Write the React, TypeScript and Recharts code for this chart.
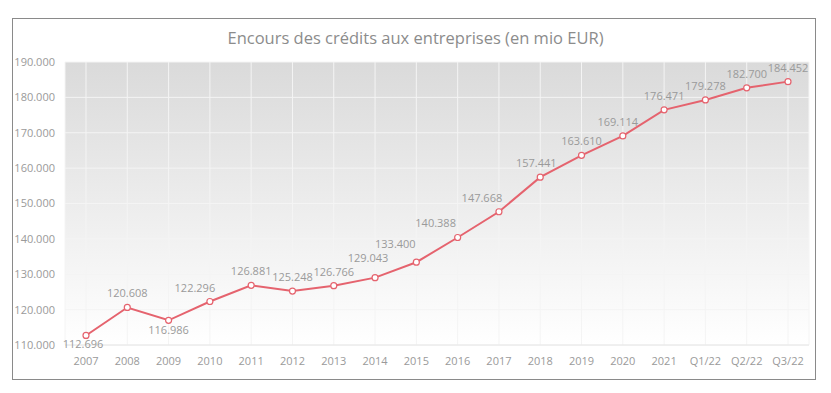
import React from 'react';
import { LineChart, Line, XAxis, YAxis, CartesianGrid, LabelList } from 'recharts';

const periods = [
  '2007', '2008', '2009', '2010', '2011', '2012', '2013', '2014', '2015',
  '2016', '2017', '2018', '2019', '2020', '2021', 'Q1/22', 'Q2/22', 'Q3/22',
];

const credits = [
  112696, 120608, 116986, 122296, 126881, 125248, 126766, 129043, 133400,
  140388, 147668, 157441, 163610, 169114, 176471, 179278, 182700, 184452,
];

const yTicks = [110000, 120000, 130000, 140000, 150000, 160000, 170000, 180000, 190000];

const data = periods.map((period, i) => ({ period, value: credits[i] }));

// label nudges (dx, dy) so labels don't sit on the line
const labelNudge: Record<number, [number, number]> = {
  0: [-3, 10],
  2: [0, 11],
  3: [-15, -12],
  7: [-7, -19],
  8: [-21, -17],
  9: [-22, -13],
  10: [-17, -13],
  11: [-4, -13],
  13: [-5, -13],
};

const fmt = (v: number) => (v / 1000).toFixed(3);

const FONT = '"Open Sans", sans-serif';

const ValueLabel = (props: any) => {
  const { x, y, value, index } = props;
  const [dx, dy] = labelNudge[index] ?? [0, -13];
  return (
    <text
      x={x + dx}
      y={y + dy}
      textAnchor="middle"
      dominantBaseline="middle"
      fill="#9a9a9a"
      fontSize={11}
      fontFamily={FONT}
    >
      {fmt(value)}
    </text>
  );
};

export default function App() {
  return (
    <div style={{ position: 'absolute', left: 0, top: 0, width: 831, height: 393, background: '#fff' }}>
      <div
        style={{
          position: 'absolute', left: 12, top: 18, width: 802, height: 360,
          border: '1.5px solid #8a8a8a',
        }}
      />
      <div
        style={{
          position: 'absolute', left: 0, top: 26, width: 831, textAlign: 'center',
          fontFamily: FONT, fontSize: 16.5, color: '#8c8c8c',
        }}
      >
        Encours des crédits aux entreprises (en mio EUR)
      </div>
      <div style={{ position: 'absolute', left: 0, top: 0 }}>
        <LineChart width={831} height={393} data={data} margin={{ top: 62, right: 22, bottom: 0, left: 0 }}>
          <defs>
            <linearGradient id="plotBg" x1="0" y1="0" x2="0" y2="1">
              <stop offset="0%" stopColor="#dadada" />
              <stop offset="100%" stopColor="#ffffff" />
            </linearGradient>
          </defs>
          <CartesianGrid stroke="#f4f4f4" fill="url(#plotBg)" fillOpacity={1} />
          <XAxis
            dataKey="period"
            height={48}
            padding={{ left: 21, right: 21 }}
            tickLine={false}
            axisLine={{ stroke: '#e6e6e6' }}
            tick={{ fill: '#9a9a9a', fontSize: 11, fontFamily: FONT }}
            tickMargin={6}
            interval={0}
          />
          <YAxis
            width={65}
            domain={[110000, 190000]}
            ticks={yTicks}
            tickFormatter={fmt}
            axisLine={false}
            tickLine={false}
            tick={{ fill: '#9a9a9a', fontSize: 11, fontFamily: FONT }}
            tickMargin={4}
          />
          <Line
            type="linear"
            dataKey="value"
            stroke="#e5636e"
            strokeWidth={2}
            dot={{ r: 3, fill: '#fff', stroke: '#e5636e', strokeWidth: 1.2 }}
            isAnimationActive={false}
          >
            <LabelList dataKey="value" content={<ValueLabel />} />
          </Line>
        </LineChart>
      </div>
    </div>
  );
}
